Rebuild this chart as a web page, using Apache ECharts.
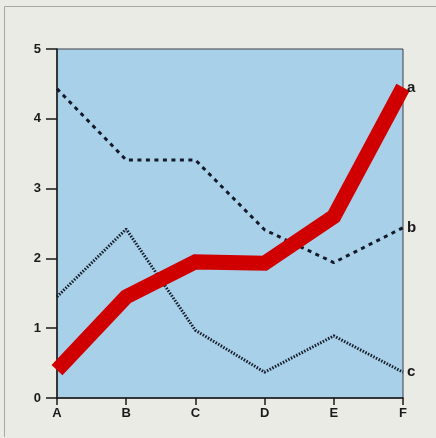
<!DOCTYPE html>
<html>
<head>
<meta charset="utf-8">
<script src="https://cdn.jsdelivr.net/npm/echarts@6/dist/echarts.min.js"></script>
<style>
  html, body { margin: 0; padding: 0; background: #ebebe5; }
  #chart { width: 436px; height: 438px; }
</style>
</head>
<body>
<div id="chart"></div>
<script>
  // categories along the x axis
  var categories = ['A', 'B', 'C', 'D', 'E', 'F']
  // y tick range
  var yMin = 0, yMax = 5, yStep = 1
  // series values
  var seriesA = [0.4, 1.45, 1.95, 1.93, 2.6, 4.45]
  var seriesB = [4.43, 3.41, 3.41, 2.41, 1.94, 2.44]
  var seriesC = [1.45, 2.42, 0.97, 0.37, 0.89, 0.37]

  var dom = echarts.init(document.getElementById('chart'))
  var labelFont = {
    color: '#1a1a1a',
    fontFamily: 'Liberation Sans, Arial, sans-serif',
    fontWeight: 'bold',
    fontSize: 15
  }
  function endLbl(name) {
    return Object.assign({
      show: true,
      formatter: name,
      distance: 4
    }, labelFont)
  }
  var option = {
    backgroundColor: '#ebebe5',
    animation: false,
    graphic: [{
      type: 'polyline',
      shape: { points: [[4.5, 437], [4.5, 6.5], [436, 6.5]] },
      style: { stroke: '#a8a8a4', lineWidth: 1, fill: null },
      silent: true
    }],
    grid: {
      left: 57,
      right: 33,
      top: 49,
      bottom: 40,
      show: true,
      backgroundColor: '#a9d0e9',
      borderColor: '#3a3f48',
      borderWidth: 1
    },
    xAxis: {
      type: 'category',
      data: categories,
      boundaryGap: false,
      axisLine: { lineStyle: { color: '#1a1a1a', width: 1.5 } },
      axisTick: { show: true, length: 7, lineStyle: { color: '#1a1a1a', width: 1.5 } },
      axisLabel: {
        color: '#1a1a1a',
        fontFamily: 'Liberation Sans, Arial, sans-serif',
        fontWeight: 'bold',
        fontSize: 13,
        margin: 9
      },
      splitLine: { show: false }
    },
    yAxis: {
      type: 'value',
      min: yMin,
      max: yMax,
      interval: yStep,
      axisLine: { show: true, lineStyle: { color: '#1a1a1a', width: 1.5 } },
      axisTick: { show: true, length: 11, lineStyle: { color: '#1a1a1a', width: 1.5 } },
      axisLabel: {
        color: '#1a1a1a',
        fontFamily: 'Liberation Sans, Arial, sans-serif',
        fontWeight: 'bold',
        fontSize: 13,
        margin: 16
      },
      splitLine: { show: false }
    },
    series: [
      {
        name: 'c',
        type: 'line',
        data: seriesC,
        symbol: 'none',
        lineStyle: { color: '#141a28', width: 3, type: [1.5, 1.5] },
        endLabel: endLbl('c')
      },
      {
        name: 'b',
        type: 'line',
        data: seriesB,
        symbol: 'none',
        lineStyle: { color: '#141a28', width: 3, type: [4, 4.5] },
        endLabel: endLbl('b')
      },
      {
        name: 'a',
        type: 'line',
        data: seriesA,
        symbol: 'none',
        lineStyle: { color: '#d00000', width: 15, cap: 'butt', join: 'miter' },
        endLabel: endLbl('a')
      }
    ]
  }
  dom.setOption(option)
</script>
</body>
</html>
